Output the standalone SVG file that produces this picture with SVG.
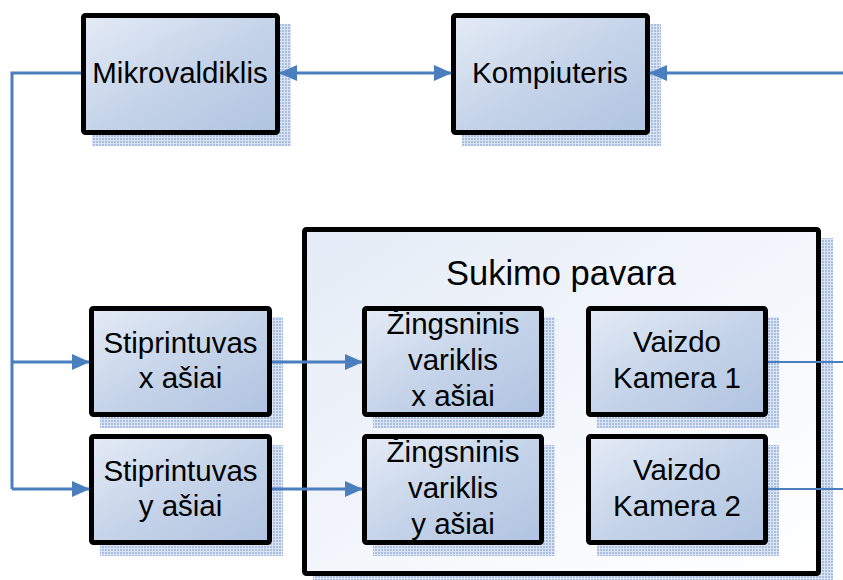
<svg xmlns="http://www.w3.org/2000/svg" width="843" height="580" viewBox="0 0 843 580">
  <defs>
    <linearGradient id="boxFill" x1="0" y1="0" x2="1" y2="1">
      <stop offset="0" stop-color="#e4ebf6"/>
      <stop offset="0.55" stop-color="#c3d2e8"/>
      <stop offset="1" stop-color="#b0c4e0"/>
    </linearGradient>
    <linearGradient id="frameFill" x1="0" y1="0" x2="1" y2="1">
      <stop offset="0" stop-color="#e4ebf6"/>
      <stop offset="0.7" stop-color="#f8fafd"/>
      <stop offset="1" stop-color="#ffffff"/>
    </linearGradient>
    <pattern id="shadowDots" width="3" height="3" patternUnits="userSpaceOnUse">
      <rect width="3" height="3" fill="#dbe4f3"/>
      <rect width="2" height="2" fill="#a9bde0"/>
    </pattern>
    <marker id="arrow" viewBox="0 0 18 16" refX="17" refY="8" markerWidth="18" markerHeight="16" markerUnits="userSpaceOnUse" orient="auto-start-reverse">
      <path d="M0,0 L18,8 L0,16 z" fill="#4a7ebf"/>
    </marker>
    <style>
      .box { fill: url(#boxFill); stroke: #000; stroke-width: 5; }
      .frame { fill: url(#frameFill); stroke: #000; stroke-width: 5; }
      .shadow { fill: url(#shadowDots); }
      .lbl { font-family: "Liberation Sans", Arial, sans-serif; font-size: 29.5px; fill: #000; text-anchor: middle; }
      .title { font-size: 34.5px; }
      .wire { fill: none; stroke: #4a7ebf; stroke-width: 3; }
      .thin { stroke-width: 2; }
    </style>
  </defs>

  <g id="mikrovaldiklis">
    <rect class="shadow" x="92" y="24" width="199" height="122"/>
    <rect class="box" x="83.5" y="15.5" width="194" height="117" rx="2"/>
    <text class="lbl" x="180" y="83">Mikrovaldiklis</text>
  </g>

  <g id="kompiuteris">
    <rect class="shadow" x="462" y="24" width="199" height="122"/>
    <rect class="box" x="453.5" y="15.5" width="194" height="117" rx="2"/>
    <text class="lbl" x="550" y="83">Kompiuteris</text>
  </g>

  <g id="stiprintuvas-x">
    <rect class="shadow" x="100" y="317" width="183" height="111"/>
    <rect class="box" x="91.5" y="308.5" width="178" height="106" rx="2"/>
    <text class="lbl" x="180.5" y="353">Stiprintuvas</text>
    <text class="lbl" x="180.5" y="388">x ašiai</text>
  </g>

  <g id="stiprintuvas-y">
    <rect class="shadow" x="100" y="445" width="183" height="111"/>
    <rect class="box" x="91.5" y="436.5" width="178" height="106" rx="2"/>
    <text class="lbl" x="180.5" y="481">Stiprintuvas</text>
    <text class="lbl" x="180.5" y="516">y ašiai</text>
  </g>

  <g id="sukimo-pavara">
    <rect class="shadow" x="313" y="238" width="520" height="350"/>
    <rect class="frame" x="304.5" y="229.5" width="514" height="344" rx="2"/>
    <text class="lbl title" x="561" y="285">Sukimo pavara</text>
  </g>

  <g id="zingsninis-x">
    <rect class="shadow" x="373" y="317" width="182" height="111"/>
    <rect class="box" x="364.5" y="308.5" width="177" height="106" rx="2"/>
    <text class="lbl" x="453" y="334">Žingsninis</text>
    <text class="lbl" x="453" y="370">variklis</text>
    <text class="lbl" x="453" y="406">x ašiai</text>
  </g>

  <g id="zingsninis-y">
    <rect class="shadow" x="373" y="445" width="182" height="111"/>
    <rect class="box" x="364.5" y="436.5" width="177" height="106" rx="2"/>
    <text class="lbl" x="453" y="462">Žingsninis</text>
    <text class="lbl" x="453" y="498">variklis</text>
    <text class="lbl" x="453" y="534">y ašiai</text>
  </g>

  <g id="kamera-1">
    <rect class="shadow" x="597" y="317" width="182" height="111"/>
    <rect class="box" x="588.5" y="308.5" width="177" height="106" rx="2"/>
    <text class="lbl" x="677" y="352">Vaizdo</text>
    <text class="lbl" x="677" y="388">Kamera 1</text>
  </g>

  <g id="kamera-2">
    <rect class="shadow" x="597" y="445" width="182" height="111"/>
    <rect class="box" x="588.5" y="436.5" width="177" height="106" rx="2"/>
    <text class="lbl" x="677" y="480">Vaizdo</text>
    <text class="lbl" x="677" y="516">Kamera 2</text>
  </g>

  <!-- connectors, drawn over the frame and shadows -->
  <g id="connectors">
    <path class="wire" d="M81,73 H12 V489"/>
    <path class="wire" d="M12,362 H89" marker-end="url(#arrow)"/>
    <path class="wire" d="M12,489 H89" marker-end="url(#arrow)"/>
    <path class="wire" d="M280,73 H451" marker-start="url(#arrow)" marker-end="url(#arrow)"/>
    <path class="wire" d="M843,73 H650" marker-end="url(#arrow)"/>
    <path class="wire" d="M272,362 H362" marker-end="url(#arrow)"/>
    <path class="wire" d="M272,489 H362" marker-end="url(#arrow)"/>
    <path class="wire thin" d="M768,362 H843"/>
    <path class="wire thin" d="M768,489 H843"/>
  </g>
</svg>
